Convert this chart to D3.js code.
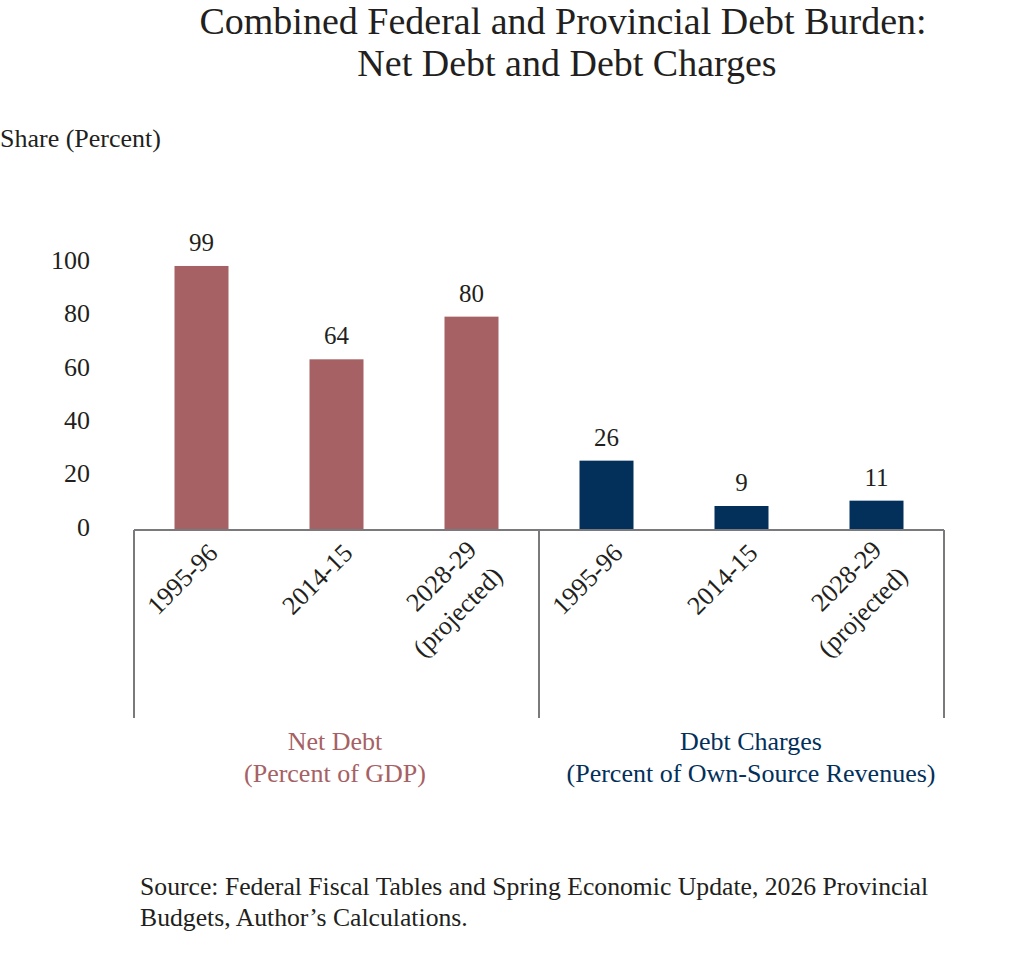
<!DOCTYPE html>
<meta charset="utf-8">
<style>
  body { margin: 0; background: #fff; }
  text { font-family: "Liberation Serif", "DejaVu Serif", serif; fill: #231f20; }
</style>
<svg width="1024" height="975"></svg>
<script src="https://cdn.jsdelivr.net/npm/d3@7"></script>
<script>

// chart data
var periods = ["1995-96", "2014-15", "2028-29\n(projected)"];
var netDebt = [99, 64, 80];        // percent of GDP
var debtCharges = [26, 9, 11];     // percent of own-source revenues
var groupNames = ["Net Debt\n(Percent of GDP)", "Debt Charges\n(Percent of Own-Source Revenues)"];
var yTicks = [0, 20, 40, 60, 80, 100];
var colors = ["#a66164", "#03305a"];

var rows = [];
[netDebt, debtCharges].forEach(function(series, g) {
  series.forEach(function(v, i) {
    rows.push({ key: g + "-" + i, label: periods[i], value: v, group: g });
  });
});

var svg = d3.select("svg");
var left = 134, right = 944, base = 530;

var x = d3.scaleBand()
  .domain(rows.map(function(d) { return d.key; }))
  .range([left, right])
  .paddingInner(0.6)
  .paddingOuter(0.3);

var y = d3.scaleLinear()
  .domain([0, 100])
  .range([base, 263.3]);

// title
svg.append("text")
  .attr("x", 563).attr("y", 34)
  .attr("text-anchor", "middle")
  .style("font-size", "38px")
  .text("Combined Federal and Provincial Debt Burden:");
svg.append("text")
  .attr("x", 567).attr("y", 76)
  .attr("text-anchor", "middle")
  .style("font-size", "38px")
  .text("Net Debt and Debt Charges");

svg.append("text")
  .attr("x", 0).attr("y", 147)
  .style("font-size", "26px")
  .text("Share (Percent)");

// y axis (labels only)
var yAxis = svg.append("g")
  .attr("transform", "translate(" + left + ",0)")
  .call(d3.axisLeft(y).tickValues(yTicks).tickSize(0).tickPadding(44));
yAxis.select(".domain").remove();
yAxis.selectAll("text")
  .attr("dy", "0.2em")
  .style("font-size", "26px")
  .style("font-family", "'Liberation Serif', serif")
  .attr("fill", "#231f20");

// bars
svg.append("g").selectAll("rect")
  .data(rows)
  .join("rect")
  .attr("x", function(d) { return x(d.key); })
  .attr("y", function(d) { return y(d.value); })
  .attr("width", x.bandwidth())
  .attr("height", function(d) { return base - y(d.value); })
  .attr("fill", function(d) { return colors[d.group]; });

// value labels
svg.append("g").selectAll("text")
  .data(rows)
  .join("text")
  .attr("x", function(d) { return x(d.key) + x.bandwidth() / 2; })
  .attr("y", function(d) { return y(d.value) - 15; })
  .attr("text-anchor", "middle")
  .style("font-size", "25px")
  .text(function(d) { return d.value; });

// axis frame: baseline and group separators
var gray = "#7a7a7d";
svg.append("line")
  .attr("x1", left).attr("x2", right)
  .attr("y1", base).attr("y2", base)
  .attr("stroke", gray).attr("stroke-width", 2);

var seps = [left, (left + right) / 2, right];
svg.append("g").selectAll("line")
  .data(seps)
  .join("line")
  .attr("x1", function(d) { return d; }).attr("x2", function(d) { return d; })
  .attr("y1", base).attr("y2", 718)
  .attr("stroke", gray).attr("stroke-width", 2);

// rotated category labels
var lh = 37;
var cats = svg.append("g").selectAll("g")
  .data(rows)
  .join("g")
  .attr("transform", function(d) {
    var cx = x(d.key) + x.bandwidth() / 2;
    var n = d.label.split("\n").length;
    var ox = n > 1 ? 14 : 12, oy = n > 1 ? 29 : 19;
    return "translate(" + (cx + ox) + "," + (base + oy) + ") rotate(-45)";
  });

cats.each(function(d) {
  var lines = d.label.split("\n");
  var t = d3.select(this);
  lines.forEach(function(s, i) {
    t.append("text")
      .attr("x", 0)
      .attr("y", (i - (lines.length - 1) / 2) * lh + 8)
      .attr("text-anchor", "end")
      .style("font-size", "26px")
      .text(s);
  });
});

// group labels
var groupCx = [335, 751];
groupNames.forEach(function(name, g) {
  name.split("\n").forEach(function(s, i) {
    svg.append("text")
      .attr("x", groupCx[g])
      .attr("y", 750 + i * 32)
      .attr("text-anchor", "middle")
      .style("font-size", "26px")
      .style("fill", colors[g])
      .text(s);
  });
});

// source note
var source = ["Source: Federal Fiscal Tables and Spring Economic Update, 2026 Provincial",
              "Budgets, Author\u2019s Calculations."];
source.forEach(function(s, i) {
  svg.append("text")
    .attr("x", 140)
    .attr("y", 895 + i * 31)
    .style("font-size", "25.7px")
    .text(s);
});

</script>
